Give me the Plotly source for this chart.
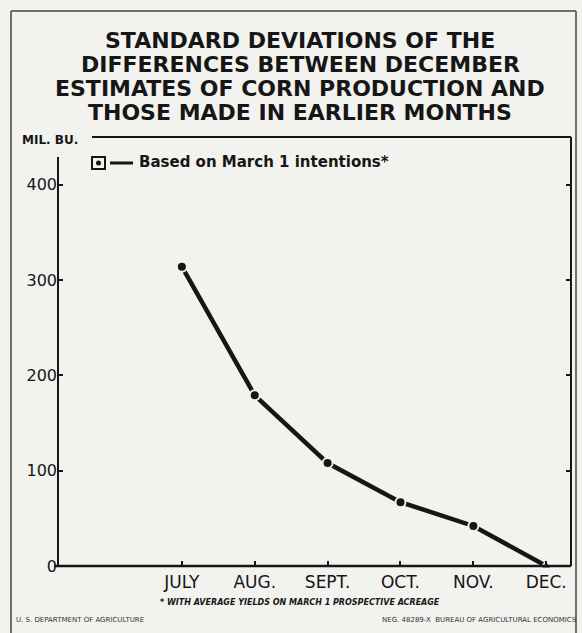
import plotly.graph_objects as go

months = ["JULY", "AUG.", "SEPT.", "OCT.", "NOV.", "DEC."]
std_dev = [314, 179, 108, 67, 42, 0]
y_ticks = [0, 100, 200, 300, 400]
series_name = "Based on March 1 intentions*"
title_lines = [
    "STANDARD DEVIATIONS OF THE",
    "DIFFERENCES BETWEEN DECEMBER",
    "ESTIMATES OF CORN PRODUCTION AND",
    "THOSE MADE IN EARLIER MONTHS",
]

BG = "#f2f2ef"
INK = "#161616"
FONT = "'DejaVu Sans', sans-serif"

W, H = 582, 633
L, R, T, B = 58, 11, 137, 67
PW, PH = W - L - R, H - T - B


def px(x):
    return (x - L) / PW


def py(y):
    return (H - B - y) / PH


x_idx = list(range(len(months)))
symbols = ["circle"] * (len(months) - 1) + ["triangle-up"]

fig = go.Figure()
fig.add_trace(go.Scatter(
    x=x_idx, y=std_dev, mode="lines+markers", name=series_name,
    line=dict(color=INK, width=4.5),
    marker=dict(symbol=symbols, size=10, color=INK, line=dict(color=BG, width=2)),
    cliponaxis=False, showlegend=False,
))

fig.update_layout(
    width=W, height=H,
    margin=dict(l=L, r=R, t=T, b=B),
    paper_bgcolor=BG, plot_bgcolor=BG,
    font=dict(family=FONT, color=INK),
    xaxis=dict(
        range=[-1.70, 5.34], tickvals=x_idx, ticktext=months,
        ticks="inside", ticklen=5, tickcolor=INK, tickwidth=1.5,
        ticklabelstandoff=4,
        showgrid=False, zeroline=False, showline=False,
        tickfont=dict(size=17, family=FONT, color=INK),
    ),
    yaxis=dict(
        range=[0, 450], tickvals=y_ticks,
        ticks="inside", ticklen=5, tickcolor=INK, tickwidth=1.5, mirror="ticks",
        showgrid=False, zeroline=False, showline=False,
        tickfont=dict(size=16, family=FONT, color=INK),
    ),
)

# frame lines of the plot area
line_style = dict(color=INK, width=2)
fig.add_shape(type="line", xref="paper", yref="paper", x0=0, x1=0, y0=0, y1=py(157), line=line_style)
fig.add_shape(type="line", xref="paper", yref="paper", x0=px(54), x1=1, y0=0, y1=0, line=dict(color=INK, width=2.5))
fig.add_shape(type="line", xref="paper", yref="paper", x0=1, x1=1, y0=0, y1=1, line=line_style)
fig.add_shape(type="line", xref="paper", yref="paper", x0=px(92), x1=1, y0=1, y1=1, line=line_style)

# outer frame
frame = dict(color="#444", width=1.5)
fig.add_shape(type="line", xref="paper", yref="paper", x0=px(11), x1=px(576), y0=py(11), y1=py(11), line=frame)
fig.add_shape(type="line", xref="paper", yref="paper", x0=px(11), x1=px(11), y0=py(11), y1=py(633), line=frame)
fig.add_shape(type="line", xref="paper", yref="paper", x0=px(576), x1=px(576), y0=py(11), y1=py(633), line=frame)

# title, one annotation per line for tight line spacing
for i, line in enumerate(title_lines):
    fig.add_annotation(
        xref="paper", yref="paper", x=px(300), y=py(40 + 24.3 * i),
        xanchor="center", yanchor="middle", showarrow=False,
        text="<b>" + line + "</b>",
        font=dict(size=22, family=FONT, color=INK),
    )

# unit label
fig.add_annotation(
    xref="paper", yref="paper", x=px(20), y=py(140),
    xanchor="left", yanchor="middle", showarrow=False,
    text="<b>MIL. BU.</b>", font=dict(size=12, family=FONT, color=INK),
)

# legend (drawn)
fig.add_shape(type="rect", xref="paper", yref="paper",
              x0=px(92), x1=px(105), y0=py(169), y1=py(157),
              line=dict(color=INK, width=2), fillcolor=BG)
fig.add_shape(type="circle", xref="paper", yref="paper",
              x0=px(96), x1=px(101), y0=py(165.5), y1=py(160.5),
              line=dict(color=INK, width=0), fillcolor=INK)
fig.add_shape(type="line", xref="paper", yref="paper",
              x0=px(110), x1=px(133), y0=py(163), y1=py(163),
              line=dict(color=INK, width=3))
fig.add_annotation(
    xref="paper", yref="paper", x=px(137), y=py(162),
    xanchor="left", yanchor="middle", showarrow=False,
    text="<b>" + series_name + "</b>", font=dict(size=15, family=FONT, color=INK),
)

# footnote
fig.add_annotation(
    xref="paper", yref="paper", x=px(300), y=py(602),
    xanchor="center", yanchor="middle", showarrow=False,
    text="<b><i>* WITH AVERAGE YIELDS ON MARCH 1 PROSPECTIVE ACREAGE</i></b>",
    font=dict(size=8, family=FONT, color=INK),
)
fig.add_annotation(
    xref="paper", yref="paper", x=px(14), y=py(620),
    xanchor="left", yanchor="middle", showarrow=False,
    text="U. S. DEPARTMENT OF AGRICULTURE",
    font=dict(size=7, family=FONT, color="#333"),
)
fig.add_annotation(
    xref="paper", yref="paper", x=px(579), y=py(620),
    xanchor="right", yanchor="middle", showarrow=False,
    text="NEG. 48289-X  BUREAU OF AGRICULTURAL ECONOMICS",
    font=dict(size=7, family=FONT, color="#333"),
)

fig.write_html(
    "out.html",
    config={"displayModeBar": False},
    post_script="document.body.style.margin='0';document.body.style.overflow='hidden';",
)
